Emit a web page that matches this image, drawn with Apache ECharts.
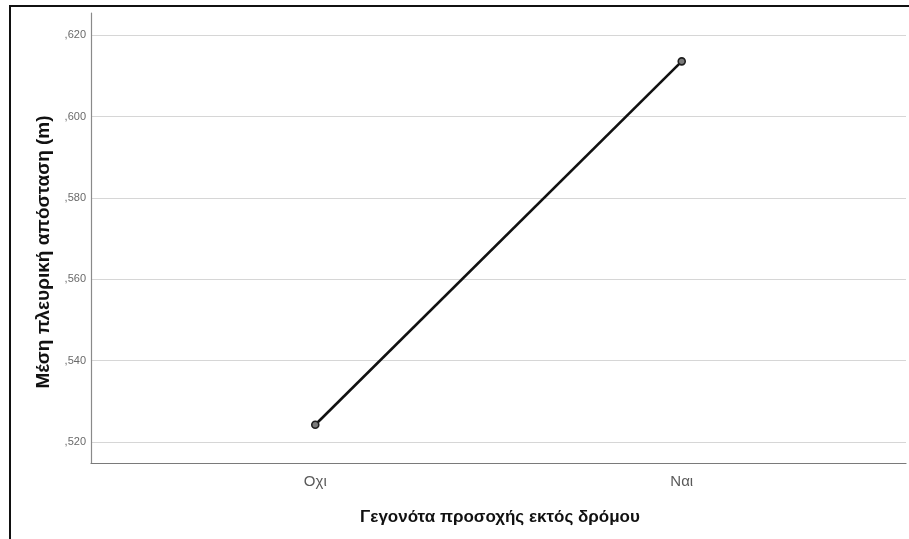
<!DOCTYPE html>
<html>
<head>
<meta charset="utf-8">
<style>
  html, body { margin: 0; padding: 0; background: #fff; }
  #chart { width: 909px; height: 539px; }
</style>
<script src="https://cdn.jsdelivr.net/npm/echarts@6/dist/echarts.min.js"></script>
</head>
<body>
<div id="chart"></div>
<script>
// Categories of the grouping variable and the mean lateral distance for each
const categories = ['Οχι', 'Ναι'];
const meanDistance = [0.5242, 0.6136];
// Y tick positions and their labels (Greek decimal comma)
const yTicks = [0.52, 0.54, 0.56, 0.58, 0.60, 0.62];
const yTickLabels = [',520', ',540', ',560', ',580', ',600', ',620'];

const xTitle = 'Γεγονότα προσοχής εκτός δρόμου';
const yTitle = 'Μέση πλευρική απόσταση (m)';

const chart = echarts.init(document.getElementById('chart'), null, { renderer: 'canvas' });

const seriesData = categories.map((c, i) => [i, meanDistance[i]]);

chart.setOption({
  animation: false,
  backgroundColor: '#ffffff',
  grid: { left: 91, right: 3, top: 13, bottom: 76, containLabel: false },
  xAxis: {
    type: 'value',
    min: -0.612,
    max: 1.612,
    axisLine: { show: true, onZero: false, lineStyle: { color: '#7a7a7a', width: 1.2 } },
    axisTick: { show: false, customValues: [0, 1] },
    splitLine: { show: false },
    axisLabel: {
      customValues: [0, 1],
      formatter: (v) => categories[Math.round(v)],
      color: '#5a5a5a',
      fontFamily: 'Liberation Sans, Arial, sans-serif',
      fontSize: 15,
      margin: 11
    }
  },
  yAxis: {
    type: 'value',
    min: 0.5148,
    max: 0.6255,
    axisLine: { show: true, onZero: false, lineStyle: { color: '#8a8a8a', width: 1.2 } },
    axisTick: { show: false, customValues: yTicks },
    splitLine: { show: true, lineStyle: { color: '#d6d6d6', width: 1.2 } },
    axisLabel: {
      customValues: yTicks,
      formatter: (v) => {
        const k = yTicks.findIndex(t => Math.abs(t - v) < 1e-6);
        return k >= 0 ? yTickLabels[k] : '';
      },
      color: '#6a6a6a',
      fontFamily: 'Liberation Sans, Arial, sans-serif',
      fontSize: 11,
      margin: 5
    }
  },
  series: [{
    type: 'line',
    data: seriesData,
    lineStyle: { color: '#111111', width: 2.6 },
    symbol: 'circle',
    symbolSize: 7,
    itemStyle: { color: '#7a7a7a', borderColor: '#1e1e1e', borderWidth: 1.6 },
    z: 5
  }],
  graphic: [
    {
      type: 'rect',
      shape: { x: 10, y: 6, width: 930, height: 560 },
      style: { fill: 'none', stroke: '#111111', lineWidth: 2 },
      silent: true,
      z: 100
    },
    {
      type: 'text',
      x: 500,
      y: 517,
      style: {
        text: xTitle,
        fill: '#111111',
        font: 'bold 17px "Liberation Sans", Arial, sans-serif',
        align: 'center',
        verticalAlign: 'middle'
      }
    },
    {
      type: 'text',
      x: 44,
      y: 252,
      rotation: Math.PI / 2,
      style: {
        text: yTitle,
        fill: '#111111',
        font: 'bold 19px "Liberation Sans", Arial, sans-serif',
        align: 'center',
        verticalAlign: 'middle'
      }
    }
  ]
});
</script>
</body>
</html>
